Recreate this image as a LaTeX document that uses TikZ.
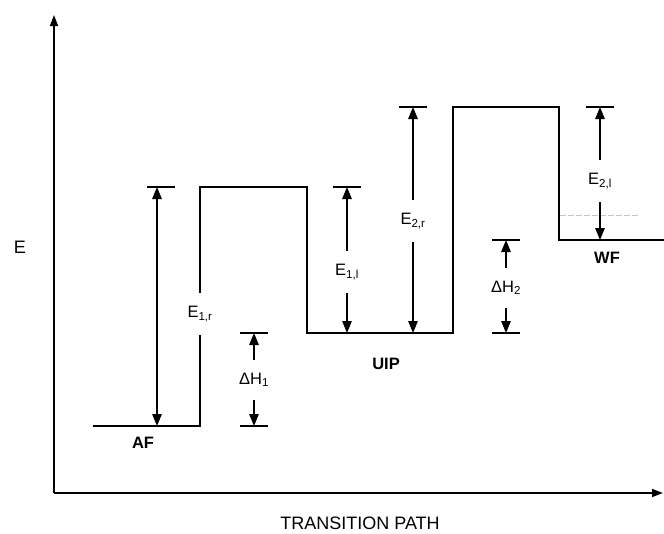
\documentclass[tikz,border=0pt]{standalone}
\usepackage{fontspec}
\setmainfont{Liberation Sans}
\usetikzlibrary{arrows.meta}
\begin{document}
\begin{tikzpicture}[x=1pt,y=-1pt,
  line/.style={line width=1.4pt},
  axis/.style={line width=1.5pt,-{Triangle[length=11pt,width=8pt]}},
  arr/.style={line width=1.3pt,-{Triangle[length=12pt,width=9.5pt]}},
  dblarr/.style={line width=1.3pt,{Triangle[length=12pt,width=9.5pt]}-{Triangle[length=12pt,width=9.5pt]}},
  tick/.style={line width=1.3pt},
  lbl/.style={font=\fontsize{16.5}{19}\selectfont,inner sep=0pt,minimum height=42pt},
  dlbl/.style={font=\fontsize{16.5}{19}\selectfont,inner sep=0pt,minimum height=40pt},
  state/.style={font=\fontsize{16.5}{19}\selectfont\bfseries,inner sep=1pt},
  title/.style={font=\fontsize{18}{21}\selectfont,inner sep=1pt}]
\useasboundingbox (0,0) rectangle (664,533);
% axes
\coordinate (O) at (54,493);
\coordinate (Ytop) at (54,15);
\coordinate (Xend) at (663,493);
\draw[axis] (O) -- (Ytop);
\draw[axis] (O) -- (Xend);
\node[title] (Elab) at (20,247) {E};
\node[title] (Xlab) at (360,523) {TRANSITION PATH};
% energy levels
\coordinate (a1) at (93,426);
\coordinate (a2) at (200,426);
\coordinate (t1) at (200,187);
\coordinate (t2) at (307,187);
\coordinate (u1) at (307,333);
\coordinate (u2) at (453,333);
\coordinate (s1) at (453,107);
\coordinate (s2) at (559,107);
\coordinate (w1) at (559,240);
\coordinate (w2) at (664,240);
\node[lbl] (E1r) at (200,314) {E\textsubscript{1,r}};
\draw[line] (a1) -- (a2) -- (E1r.south);
\draw[line] (E1r.north) -- (t1) -- (t2) -- (u1) -- (u2) -- (s1) -- (s2) -- (w1) -- (w2);
% faint line
\coordinate (f1) at (560,215);
\coordinate (f2) at (640,215);
\draw[gray!45,line width=0.5pt,dash pattern=on 6pt off 2pt] (f1) -- (f2);
% state labels
\node[state] (AF) at (143,443) {AF};
\node[state] (UIP) at (386,364) {UIP};
\node[state] (WF) at (607,258) {WF};
% E1,r arrow
\coordinate (e1rt) at (157,187);
\coordinate (e1rb) at (157,426);
\draw[tick] ([xshift=-10pt]e1rt) -- ([xshift=18pt]e1rt);
\draw[dblarr] (e1rt) -- (e1rb);
% E1,l
\coordinate (e1lt) at (347,187);
\coordinate (e1lb) at (347,333);
\draw[tick] ([xshift=-14pt]e1lt) -- ([xshift=14pt]e1lt);
\node[lbl] (E1l) at (347,272) {E\textsubscript{1,l}};
\draw[arr] (E1l.north) -- (e1lt);
\draw[arr] (E1l.south) -- (e1lb);
% E2,r
\coordinate (e2rt) at (413,107);
\coordinate (e2rb) at (413,333);
\draw[tick] ([xshift=-14pt]e2rt) -- ([xshift=14pt]e2rt);
\node[lbl] (E2r) at (413,221) {E\textsubscript{2,r}};
\draw[arr] (E2r.north) -- (e2rt);
\draw[arr] (E2r.south) -- (e2rb);
% E2,l
\coordinate (e2lt) at (600,107);
\coordinate (e2lb) at (600,240);
\draw[tick] ([xshift=-14pt]e2lt) -- ([xshift=14pt]e2lt);
\node[lbl] (E2l) at (600,181) {E\textsubscript{2,l}};
\draw[arr] (E2l.north) -- (e2lt);
\draw[arr] (E2l.south) -- (e2lb);
% Delta H1
\coordinate (h1t) at (254,333);
\coordinate (h1b) at (254,426);
\draw[tick] ([xshift=-14pt]h1t) -- ([xshift=14pt]h1t);
\draw[tick] ([xshift=-14pt]h1b) -- ([xshift=14pt]h1b);
\node[dlbl] (H1) at (254,380) {ΔH\textsubscript{1}};
\draw[arr] (H1.north) -- (h1t);
\draw[arr] (H1.south) -- (h1b);
% Delta H2
\coordinate (h2t) at (506,240);
\coordinate (h2b) at (506,333);
\draw[tick] ([xshift=-14pt]h2t) -- ([xshift=14pt]h2t);
\draw[tick] ([xshift=-14pt]h2b) -- ([xshift=14pt]h2b);
\node[dlbl] (H2) at (506,288) {ΔH\textsubscript{2}};
\draw[arr] (H2.north) -- (h2t);
\draw[arr] (H2.south) -- (h2b);
\end{tikzpicture}
\end{document}
